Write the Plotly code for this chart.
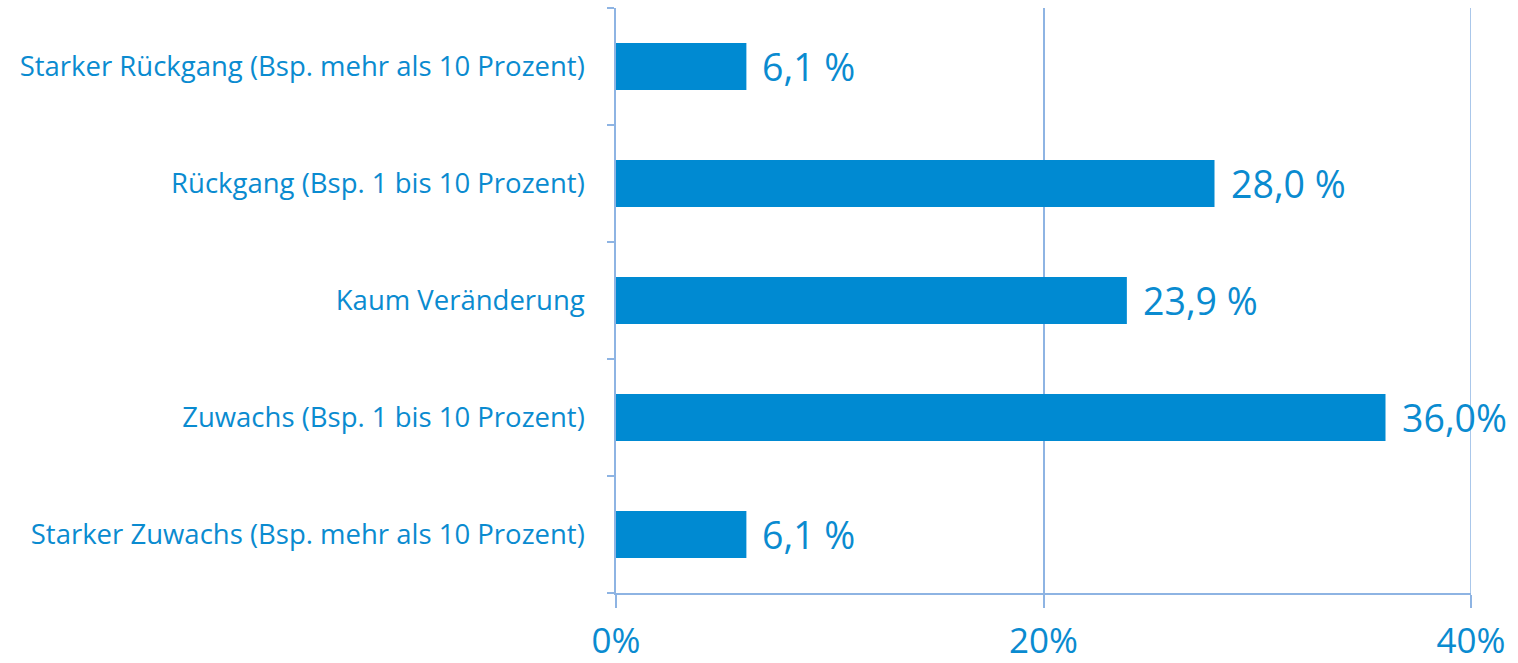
import plotly.graph_objects as go

categories = [
    "Starker Rückgang (Bsp. mehr als 10 Prozent)",
    "Rückgang (Bsp. 1 bis 10 Prozent)",
    "Kaum Veränderung",
    "Zuwachs (Bsp. 1 bis 10 Prozent)",
    "Starker Zuwachs (Bsp. mehr als 10 Prozent)",
]
values = [6.1, 28.0, 23.9, 36.0, 6.1]
value_labels = ["6,1 %", "28,0 %", "23,9 %", "36,0%", "6,1 %"]
x_ticks = [0, 20, 40]
x_tick_labels = ["0%", "20%", "40%"]

bar_color = "#008AD2"
text_color = "#0A8BD0"
line_color = "#8EB4E3"
font_family = "'Open Sans', sans-serif"

fig = go.Figure(go.Bar(
    x=values,
    y=categories,
    orientation="h",
    marker=dict(color=bar_color, line=dict(width=0)),
    width=0.4,
    cliponaxis=False,
    hoverinfo="x+y",
))

for v, c, t in zip(values, categories, value_labels):
    fig.add_annotation(
        x=v, y=c, text=t, showarrow=False,
        xanchor="left", yanchor="middle", xshift=14,
        font=dict(size=37.5, color=text_color, family=font_family),
    )

# light gridline at the last tick (plotly omits it at the axis edge)
fig.add_shape(
    type="line", xref="x", yref="paper",
    x0=x_ticks[-1], x1=x_ticks[-1], y0=0, y1=1,
    line=dict(color=line_color, width=1.5),
)

fig.update_layout(
    width=1518, height=663,
    margin=dict(l=616, r=47, t=8, b=70),
    paper_bgcolor="white", plot_bgcolor="white",
    showlegend=False,
    font=dict(family=font_family, color=text_color),
    xaxis=dict(
        range=[0, 40], tickvals=x_ticks, ticktext=x_tick_labels,
        showgrid=True, gridcolor=line_color, gridwidth=1.5,
        showline=True, linecolor=line_color, linewidth=1.5,
        ticks="outside", ticklen=13, tickcolor=line_color, tickwidth=1.5,
        tickfont=dict(size=35, color=text_color, family=font_family),
        ticklabelstandoff=3,
        zeroline=False, automargin=False,
    ),
    yaxis=dict(
        categoryorder="array", categoryarray=categories[::-1],
        showline=True, linecolor=line_color, linewidth=1.5,
        ticks="outside", ticklen=7, tickcolor=line_color, tickwidth=1.5,
        tickson="boundaries",
        tickfont=dict(size=27.5, color=text_color, family=font_family),
        ticklabelstandoff=24,
        showgrid=False, automargin=False,
    ),
)

fig.write_html(
    "out.html",
    config={"displayModeBar": False},
    post_script="document.body.style.margin='0';document.body.style.overflow='hidden';",
)
